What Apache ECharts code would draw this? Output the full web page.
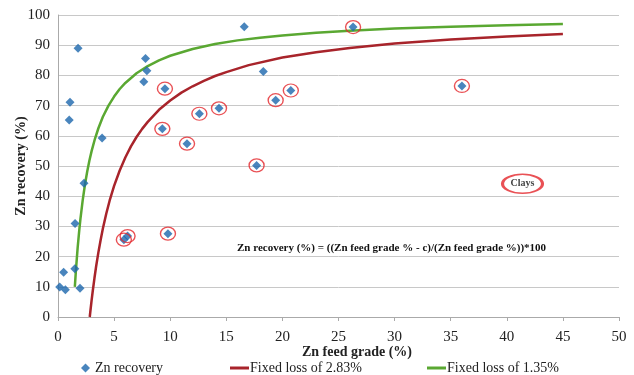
<!DOCTYPE html>
<html>
<head>
<meta charset="utf-8">
<script src="https://cdn.jsdelivr.net/npm/echarts@6/dist/echarts.min.js"></script>
<style>
html,body{margin:0;padding:0;background:#fff;}
#chart{width:634px;height:375px;}
</style>
</head>
<body>
<div id="chart"></div>
<script>
// Measured points: Zn feed grade (%) vs Zn recovery (%)
var feedGrade = [0.15, 0.5, 0.66, 1.96, 1.5, 1.52, 2.32, 1.79, 1.07, 1.0, 3.93, 7.8, 7.92, 7.65, 16.6, 18.3,
                 5.87, 6.2, 9.8, 9.53, 9.3, 11.5, 12.6, 14.35, 17.7, 19.4, 20.75, 26.3, 36.0];
var recovery  = [9.9, 14.8, 9.0, 9.5, 16.0, 31.0, 44.3, 89.0, 71.1, 65.2, 59.3, 85.6, 81.5, 77.9, 96.1, 81.3,
                 25.6, 26.8, 27.6, 75.6, 62.3, 57.4, 67.3, 69.1, 50.2, 71.8, 75.0, 96.0, 76.5];
// Clay samples (circled in red)
var clayGrade    = [5.87, 6.2, 9.8, 9.53, 9.3, 11.5, 12.6, 14.35, 17.7, 19.4, 20.75, 26.3, 36.0];
var clayRecovery = [25.6, 26.8, 27.6, 75.6, 62.3, 57.4, 67.3, 69.1, 50.2, 71.8, 75.0, 96.0, 76.5];
// Fixed loss of 2.83% curve
var redX = [2.83, 2.9, 3, 3.1, 3.25, 3.4, 3.6, 3.8, 4, 4.3, 4.6, 5, 5.5, 6, 6.5, 7, 7.5, 8, 9, 10, 11, 12, 13, 14, 15, 17, 20, 23, 26, 30, 35, 40, 45];
var redY = [0, 2.4, 5.7, 8.7, 12.9, 16.8, 21.4, 25.5, 29.3, 34.2, 38.5, 43.4, 48.5, 52.8, 56.5, 59.6, 62.3, 64.6, 68.6, 71.7, 74.3, 76.4, 78.2, 79.8, 81.1, 83.4, 85.9, 87.7, 89.1, 90.6, 91.9, 92.9, 93.7];
// Fixed loss of 1.35% curve
var greenX = [1.5, 1.6, 1.75, 1.9, 2, 2.2, 2.4, 2.6, 2.8, 3, 3.3, 3.6, 4, 4.5, 5, 5.5, 6, 7, 8, 9, 10, 12, 14, 16, 18, 20, 23, 26, 30, 35, 40, 45];
var greenY = [10, 15.6, 22.9, 28.9, 32.5, 38.6, 43.8, 48.1, 51.8, 55, 59.1, 62.5, 66.3, 70, 73, 75.5, 77.5, 80.7, 83.1, 85, 86.5, 88.75, 90.4, 91.6, 92.5, 93.25, 94.1, 94.8, 95.5, 96.1, 96.6, 97];
// Annotation positions
var clayLabelPos = [41.4, 44.1];
var xTicks = [0, 50, 5];
var yTicks = [0, 100, 10];

function zip(a, b) { return a.map(function (v, i) { return [v, b[i]]; }); }

var serif = '"Liberation Serif", "DejaVu Serif", serif';
var chart = echarts.init(document.getElementById('chart'));
chart.setOption({
  animation: false,
  backgroundColor: '#fff',
  grid: { left: 58, right: 15, top: 15, bottom: 58, containLabel: false, outerBoundsMode: 'none' },
  xAxis: {
    type: 'value', min: xTicks[0], max: xTicks[1], interval: xTicks[2],
    name: 'Zn feed grade (%)', nameLocation: 'middle', nameGap: 28, nameMoveOverlap: false,
    nameTextStyle: { fontFamily: serif, fontWeight: 'bold', fontSize: 14, color: '#222', padding: [0, 0, 0, 37] },
    axisLine: { show: true, lineStyle: { color: '#aaa', width: 1 } },
    axisTick: { show: true, length: 4, lineStyle: { color: '#aaa' } },
    axisLabel: { fontFamily: serif, fontSize: 15, color: '#222', margin: 13 },
    splitLine: { show: false }
  },
  yAxis: {
    type: 'value', min: yTicks[0], max: yTicks[1], interval: yTicks[2],
    name: 'Zn recovery (%)', nameLocation: 'middle', nameGap: 30, nameRotate: 90, nameMoveOverlap: false,
    nameTextStyle: { fontFamily: serif, fontWeight: 'bold', fontSize: 14, color: '#222' },
    axisLine: { show: true, lineStyle: { color: '#aaa', width: 1 } },
    axisTick: { show: false },
    axisLabel: { fontFamily: serif, fontSize: 15, color: '#222', margin: 8 },
    splitLine: { show: true, lineStyle: { color: '#c8c8c8', width: 1 } }
  },
  legend: [
    { left: 76, top: 356, itemWidth: 9, itemHeight: 9, itemGap: 0,
      textStyle: { fontFamily: serif, fontSize: 14, color: '#222' },
      data: [{ name: 'Zn recovery', icon: 'diamond' }] },
    { left: 225, top: 356, itemWidth: 19, itemHeight: 3,
      textStyle: { fontFamily: serif, fontSize: 14, color: '#222', padding: [0, 0, 0, -4] },
      data: [{ name: 'Fixed loss of 2.83%', icon: 'rect' }] },
    { left: 422, top: 356, itemWidth: 19, itemHeight: 3,
      textStyle: { fontFamily: serif, fontSize: 14, color: '#222', padding: [0, 0, 0, -4] },
      data: [{ name: 'Fixed loss of 1.35%', icon: 'rect' }] }
  ],
  graphic: [
    { type: 'text', left: 237, top: 243,
      style: { text: 'Zn recovery (%) = ((Zn feed grade % - c)/(Zn feed grade %))*100',
               font: 'bold 11px ' + serif, fill: '#111' } }
  ],
  series: [
    { name: 'Fixed loss of 2.83%', type: 'line', data: zip(redX, redY), smooth: false,
      showSymbol: false, symbol: 'none', lineStyle: { color: '#a8242b', width: 2.5 }, itemStyle: { color: '#a8242b' }, z: 2 },
    { name: 'Fixed loss of 1.35%', type: 'line', data: zip(greenX, greenY), smooth: false,
      showSymbol: false, symbol: 'none', lineStyle: { color: '#5aa832', width: 2.5 }, itemStyle: { color: '#5aa832' }, z: 2 },
    { name: 'Zn recovery', type: 'scatter', data: zip(feedGrade, recovery), symbol: 'diamond', symbolSize: 9,
      itemStyle: { color: '#1b66ad' }, z: 4 },
    { name: 'clays', type: 'scatter', data: zip(clayGrade, clayRecovery), symbol: 'circle', symbolSize: [15, 13],
      itemStyle: { color: 'rgba(0,0,0,0)', borderColor: '#e3262b', borderWidth: 1.3 }, z: 5, silent: true },
    { name: 'claysLabel', type: 'scatter', data: [clayLabelPos], symbol: 'circle', symbolSize: [40, 19],
      itemStyle: { color: 'rgba(0,0,0,0)', borderColor: '#e3262b', borderWidth: 2.2 },
      label: { show: true, position: 'inside', formatter: 'Clays', fontFamily: serif, fontWeight: 'bold', fontSize: 10, color: '#111' },
      z: 5, silent: true }
  ]
});
</script>
</body>
</html>
